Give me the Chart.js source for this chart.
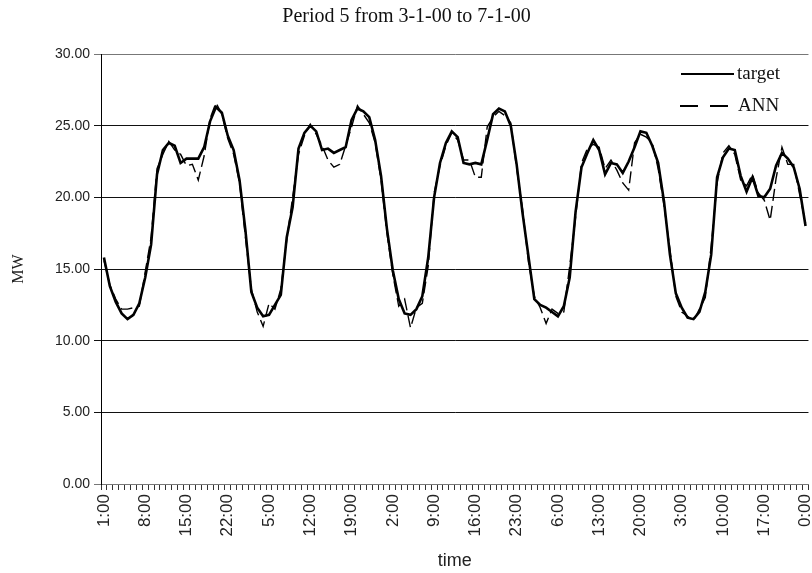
<!DOCTYPE html>
<html>
<head>
<meta charset="utf-8">
<script src="https://cdn.jsdelivr.net/npm/chart.js@4.4.1/dist/chart.umd.min.js"></script>
<style>
  html, body { margin: 0; padding: 0; background: #fff; overflow: hidden; }
  #wrap { width: 830px; height: 573px; }
</style>
</head>
<body>
<div id="wrap"><canvas id="loadChart" width="830" height="573"></canvas></div>
<script>
// hourly categories, 1:00 on 3-1-00 onwards
const hours = [
  '1:00','2:00','3:00','4:00','5:00','6:00','7:00','8:00','9:00','10:00','11:00','12:00','13:00','14:00','15:00','16:00','17:00','18:00','19:00','20:00','21:00','22:00','23:00','0:00',
  '1:00','2:00','3:00','4:00','5:00','6:00','7:00','8:00','9:00','10:00','11:00','12:00','13:00','14:00','15:00','16:00','17:00','18:00','19:00','20:00','21:00','22:00','23:00','0:00',
  '1:00','2:00','3:00','4:00','5:00','6:00','7:00','8:00','9:00','10:00','11:00','12:00','13:00','14:00','15:00','16:00','17:00','18:00','19:00','20:00','21:00','22:00','23:00','0:00',
  '1:00','2:00','3:00','4:00','5:00','6:00','7:00','8:00','9:00','10:00','11:00','12:00','13:00','14:00','15:00','16:00','17:00','18:00','19:00','20:00','21:00','22:00','23:00','0:00',
  '1:00','2:00','3:00','4:00','5:00','6:00','7:00','8:00','9:00','10:00','11:00','12:00','13:00','14:00','15:00','16:00','17:00','18:00','19:00','20:00','21:00','22:00','23:00','0:00'
];

// measured load (MW)
const target = [
  15.8,13.8,12.7,11.9,11.5,11.8,12.6,14.4,16.7,21.6,23.3,23.8,23.6,22.4,22.7,22.7,22.7,23.5,25.3,26.3,25.9,24.3,23.3,21.2,
  17.7,13.4,12.3,11.7,11.8,12.5,13.2,17.2,19.3,23.4,24.5,25.0,24.6,23.3,23.4,23.1,23.3,23.5,25.4,26.2,26.0,25.6,24.0,21.5,
  17.8,14.9,12.9,11.9,11.8,12.2,13.1,15.8,20.0,22.4,23.8,24.6,24.2,22.4,22.3,22.4,22.3,24.0,25.8,26.2,26.0,25.0,22.3,18.9,
  15.9,12.9,12.5,12.3,12.0,11.7,12.4,14.4,19.0,22.1,23.1,24.0,23.3,21.6,22.4,22.3,21.7,22.5,23.5,24.6,24.5,23.6,22.4,19.7,
  16.0,13.3,12.3,11.6,11.5,12.0,13.4,16.0,21.4,22.8,23.4,23.3,21.5,20.4,21.4,20.1,20.0,20.6,22.2,23.1,22.7,22.1,20.6,18.0
];

// network forecast (MW)
const ann = [
  15.6,13.9,12.9,12.2,12.2,12.3,12.4,14.8,17.2,22.0,23.0,23.9,23.3,23.0,22.2,22.3,21.2,22.9,25.5,26.6,25.8,24.1,23.0,21.0,
  17.2,13.6,12.0,11.0,12.6,12.2,13.6,17.0,20.0,23.0,24.3,25.1,24.4,23.6,22.6,22.1,22.3,23.6,24.9,26.4,25.8,25.2,23.8,21.2,
  17.5,14.6,12.4,12.9,10.9,12.3,12.6,15.2,20.3,22.2,23.6,24.5,24.0,22.6,22.6,21.4,21.4,24.9,25.6,26.0,25.7,25.2,22.0,19.2,
  15.5,13.1,12.3,11.2,12.2,11.9,12.0,15.2,18.6,22.4,23.4,23.7,23.5,22.0,22.6,21.9,21.0,20.5,23.8,24.4,24.2,23.8,22.0,19.4,
  16.4,13.1,12.0,11.7,11.4,12.2,13.0,16.6,21.0,23.1,23.6,23.0,21.2,20.8,21.6,20.3,19.8,18.4,21.3,23.5,22.3,22.3,20.2,18.2
];

// every 7th hour gets a label
const labelStep = 7;

const serif = "'Liberation Serif', 'Times New Roman', serif";
const sans = "'Liberation Sans', Arial, sans-serif";

// legend drawn inside the plot, top right
const insideLegend = {
    id: 'insideLegend',
    afterDraw(chart) {
        const c = chart.ctx;
        c.save();
        c.strokeStyle = '#000';
        c.lineWidth = 2;
        c.beginPath();
        c.moveTo(681, 74);
        c.lineTo(734, 74);
        c.stroke();
        c.setLineDash([18, 12]);
        c.beginPath();
        c.moveTo(680, 106);
        c.lineTo(734, 106);
        c.stroke();
        c.setLineDash([]);
        c.fillStyle = '#111';
        c.font = '19px ' + serif;
        c.textBaseline = 'middle';
        c.fillText('target', 737, 74);
        c.fillText('ANN', 738, 106);
        c.restore();
    }
};

const ctx = document.getElementById('loadChart').getContext('2d');

const loadChart = new Chart(ctx, {
    type: 'line',
    data: {
        labels: hours,
        datasets: [{
            label: 'target',
            data: target,
            borderColor: '#000',
            borderWidth: 2.6,
            pointRadius: 0,
            tension: 0,
            fill: false
        }, {
            label: 'ANN',
            data: ann,
            borderColor: '#000',
            borderWidth: 1.4,
            borderDash: [12, 5],
            pointRadius: 0,
            tension: 0,
            fill: false
        }]
    },
    options: {
        responsive: false,
        animation: false,
        devicePixelRatio: 1,
        layout: { padding: { left: 0, right: 17, top: 0, bottom: 0 } },
        plugins: {
            legend: { display: false },
            tooltip: { enabled: false },
            title: {
                display: true,
                text: 'Period 5 from 3-1-00 to 7-1-00',
                color: '#111',
                font: { family: serif, size: 20, weight: 'normal' },
                padding: { top: 5, bottom: 25 }
            }
        },
        scales: {
            x: {
                type: 'category',
                offset: true,
                afterFit(scale) { scale.height = 89; },
                border: { display: true, color: '#777', width: 1 },
                grid: {
                    offset: true,
                    drawOnChartArea: false,
                    drawTicks: true,
                    tickLength: 6,
                    color: '#333'
                },
                ticks: {
                    autoSkip: false,
                    minRotation: 90,
                    maxRotation: 90,
                    padding: 4,
                    color: '#222',
                    font: { family: sans, size: 17 },
                    callback: (v, i) => (i % labelStep === 0 ? hours[i] : '')
                },
                title: {
                    display: true,
                    text: 'time',
                    color: '#222',
                    font: { family: sans, size: 18 },
                    padding: { top: 0, bottom: 1 }
                }
            },
            y: {
                min: 0,
                max: 30,
                afterFit(scale) { scale.width = 101; },
                border: { display: true, color: '#000', width: 1 },
                grid: {
                    color: (c) => (c.tick.value === 0 || c.tick.value === 30 ? '#777' : '#111'),
                    lineWidth: 1,
                    tickLength: 7
                },
                ticks: {
                    stepSize: 5,
                    padding: 4,
                    color: '#222',
                    font: { family: sans, size: 14 },
                    callback: (v) => v.toFixed(2)
                },
                title: {
                    display: true,
                    text: 'MW',
                    color: '#222',
                    font: { family: serif, size: 16 },
                    padding: { top: 9, bottom: 0 }
                }
            }
        }
    },
    plugins: [insideLegend]
});
</script>
</body>
</html>
